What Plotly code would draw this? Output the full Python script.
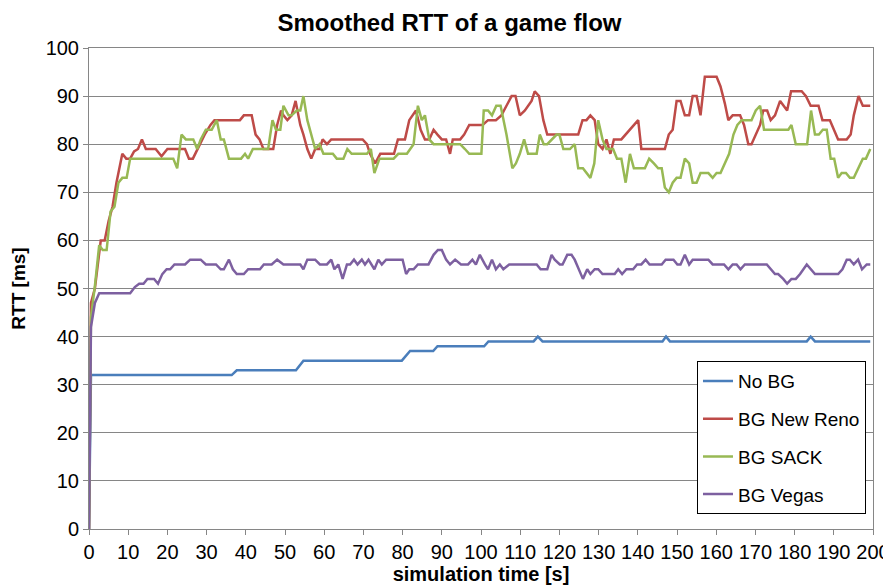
import plotly.graph_objects as go

# ---- data (time [s], RTT [ms]) ----
nobg_t = [0, 0.5, 36.4, 37.7, 52.8, 54.7, 79.8, 81.9, 87.8, 88.9, 100.8, 101.9,
          113.4, 114.5, 115.7, 146.3, 147.2, 148.2, 183.1, 184.1, 185.2, 199.3]
nobg_v = [0, 32, 32, 33, 33, 35, 35, 37, 37, 38, 38, 39,
          39, 40, 39, 39, 40, 39, 39, 40, 39, 39]

reno_t = [0, 0.5, 1.5, 2.5, 3, 4, 5, 6, 7, 8.5, 9.5, 10.5, 11.5, 12.5, 13.5, 14.5,
          17, 18.5, 20, 24.5, 25.5, 26.5, 28, 29.5, 31, 32, 38.5, 39.5, 41.5, 42.5,
          43.5, 44.5, 47, 48, 49, 49.6, 50.6, 51.7, 52.7, 53.9, 54.7, 55.7, 56.7,
          57.7, 58.8, 59.6, 60.7, 61.8, 69.8, 70.9, 71.7, 73, 74.3, 77.8, 78.8,
          80.6, 81.7, 83.4, 84.6, 85.7, 86.8, 87.9, 88.9, 90, 91.1, 92.1, 92.8,
          94.7, 95.7, 97, 100.4, 101.8, 103.8, 105.2, 106.5, 107.8, 108.8, 109.9,
          111.2, 112.9, 113.7, 114.8, 115.9, 116.9, 124.8, 125.9, 126.9, 127.9,
          129, 129.9, 131, 132, 133, 133.9, 135.8, 140.1, 140.9, 146.9, 147.9,
          148.9, 149.9, 150.9, 152, 153.1, 154, 155, 156, 157.1, 160.1, 161.1,
          162.2, 163.1, 164.2, 166.1, 167.1, 168.2, 169, 170.1, 171.2, 172, 173,
          173.9, 175, 176.3, 177.1, 178.1, 179.1, 181.8, 182.9, 184.1, 186.1,
          187.1, 189, 190.1, 191.1, 193.3, 194.3, 195.1, 196.3, 197.4, 199.3]
reno_v = [0, 47, 50, 56, 60, 60, 64, 67, 72, 78, 77, 77, 78.5, 79, 81, 79,
          79, 77.5, 79, 79, 77, 77, 79.5, 82, 84, 85, 85, 86, 86, 82,
          81, 79, 79, 84, 87, 86, 85, 86, 89, 84, 82, 79, 77,
          79, 79, 81, 80, 81, 81, 80, 78, 76, 78, 78, 81,
          81, 85, 87, 83, 81, 81, 83, 82, 81, 81, 78, 81,
          81, 82, 84, 84, 85, 85, 86, 88, 90, 90, 86,
          87, 89, 91, 90, 85, 82, 82, 85, 85, 86,
          85, 80, 79, 81, 78, 81, 81, 85, 79, 79, 82,
          83, 89, 89, 86, 86, 90, 90, 86, 94, 94, 92,
          88.5, 85, 86, 86, 84, 80, 80, 82, 84, 87, 87,
          85, 86, 89, 88, 87, 91, 91, 90, 88, 88,
          85, 85, 83, 81, 81, 82, 86, 90, 88, 88]

sack_t = [0, 0.5, 1.5, 2.6, 3.5, 4.5, 5.5, 6.5, 7.5, 8.5, 9.6, 10.5, 21.5, 22.5,
          23.6, 24.7, 26.6, 27.6, 28.5, 29.8, 31.3, 32.6, 33.6, 34.4, 35.7, 38.8,
          39.8, 40.6, 41.8, 45.7, 46.8, 47.7, 48.8, 49.6, 50.9, 51.7, 53, 53.9,
          54.7, 55.7, 57.7, 58.8, 59.8, 62.2, 63.2, 64.9, 65.9, 67, 70.9, 71.9,
          72.8, 74.1, 77.7, 78.9, 81.1, 82.8, 83.9, 84.9, 85.7, 86.8, 87.9, 94.7,
          95.9, 97, 100.1, 100.7, 101.8, 102.8, 103.9, 105, 106.5, 108, 108.9,
          109.9, 111, 112, 114.2, 115, 116, 116.9, 119.3, 120, 121, 122.7, 123.9,
          124.8, 126, 127.9, 128.9, 129.9, 131, 132, 133.7, 134.7, 135.8, 136.9,
          138, 139, 141.8, 142.9, 144.1, 145.2, 146.1, 146.9, 147.9, 148.9, 149.9,
          150.9, 152, 153.1, 154, 155, 156, 158, 159.1, 160.1, 161.1, 162.2,
          163.3, 164.4, 165.4, 166.5, 169, 170.1, 171.2, 172.2, 178.4, 179.2,
          180.3, 183.2, 184.2, 185.2, 186.2, 187.2, 188.2, 189.2, 190.1, 191.1,
          192, 193.1, 194.1, 195.1, 196.2, 197.4, 198.2, 199.3]
sack_v = [0, 44, 50.5, 59, 58, 58, 66, 67, 72, 73, 73, 77, 77, 75,
          82, 81, 81, 79, 81, 83, 83, 85, 81, 81, 77, 77,
          78, 77, 79, 79, 85, 83, 83, 88, 86, 86, 87, 87,
          90, 85, 79, 80, 78, 78, 77, 77, 79, 78, 78, 79,
          74, 77, 77, 78, 78, 80, 88, 85, 86, 81, 80, 80,
          79, 78, 78, 87, 87, 86, 88, 88, 82, 75, 76,
          78, 81, 78, 78, 82, 80, 80, 82, 82, 79, 79, 80,
          75, 75, 73, 76, 85, 81, 79, 79, 77, 77, 72,
          78, 75, 75, 77, 76, 75, 75, 71, 70, 72, 73,
          73, 77, 76, 72, 72, 74, 74, 73, 74, 74, 76,
          78, 82, 84, 85, 85, 87, 88, 83, 83, 84,
          80, 80, 87, 82, 82, 83, 83, 77, 77, 73,
          74, 74, 73, 73, 75, 77, 77, 79]

vegas_t = [0, 0.5, 1.5, 2.6, 10.5, 11.7, 12.8, 13.9, 14.9, 16.6, 17.6, 18.7, 19.8,
           20.7, 21.8, 24.5, 25.8, 28.5, 29.8, 32.4, 33.6, 34.4, 35.7, 36.7, 37.7,
           39.5, 40.6, 43.6, 44.6, 46.6, 48, 49.6, 53.9, 54.7, 55.7, 57.7, 58.9,
           60.7, 61.8, 62.6, 63.6, 64.7, 65.8, 66.6, 67.6, 68.5, 69.6, 70.4, 71.3,
           72.1, 72.8, 73.8, 74.7, 75.8, 80, 80.9, 81.7, 82.8, 83.9, 86.6, 87.9,
           89, 90, 91.1, 92.1, 93.4, 94.9, 96.7, 97.8, 98.7, 99.7, 101, 101.8,
           102.8, 103.8, 104.8, 105.7, 107.2, 114.2, 115.2, 116.9, 118, 118.8,
           120.1, 120.8, 122, 123.1, 123.9, 125, 126, 127.1, 127.9, 129, 129.9,
           131, 134.1, 135, 136, 137.1, 138.8, 139.8, 140.9, 142, 143, 146.1,
           147.1, 149.1, 150.1, 150.9, 152, 153.1, 154, 158, 159.1, 162, 163.1,
           164.2, 165.2, 166.2, 167.3, 172.9, 173.9, 175, 175.8, 177.1, 178.1,
           179.2, 180.3, 181.4, 183.1, 184.2, 185.2, 191.1, 192.2, 193.3, 194.1,
           195.1, 196.2, 197.2, 198.4, 199.3]
vegas_v = [0, 42, 47, 49, 49, 50.3, 51, 51, 52, 52, 51, 53, 54,
           54, 55, 55, 56, 56, 55, 55, 54, 54, 56, 54, 53,
           53, 54, 54, 55, 55, 56, 55, 55, 54, 56, 56, 55,
           55, 56, 54, 55, 52, 55, 55, 56, 55, 56, 55, 56,
           55, 54, 56, 55, 56, 56, 53, 54, 54, 55, 55, 57,
           58, 58, 56, 55, 56, 55, 55, 56, 55, 57, 55, 54,
           56, 54, 55, 54, 55, 55, 54, 54, 57, 56,
           55, 55, 57, 57, 56, 54, 52, 54, 53, 54, 54,
           53, 53, 54, 53, 54, 54, 55, 55, 56, 55, 55,
           56, 56, 55, 55, 57, 55, 56, 56, 55, 55, 54,
           55, 55, 54, 55, 55, 54, 53, 53, 52, 51,
           52, 52, 53, 55, 54, 53, 53, 54, 56, 56,
           55, 56, 54, 55, 55]

series = [
    ('No BG', nobg_t, nobg_v, '#4A7EBB'),
    ('BG New Reno', reno_t, reno_v, '#BE4B48'),
    ('BG SACK', sack_t, sack_v, '#98B954'),
    ('BG Vegas', vegas_t, vegas_v, '#7D60A0'),
]

GRID = '#868686'
FONT = 'Arial, Liberation Sans, sans-serif'

fig = go.Figure()
for i, (name, t, v, col) in enumerate(series):
    fig.add_trace(go.Scatter(
        x=t, y=v, mode='lines', name=name, legendgroup=f'g{i}',
        line=dict(color=col, width=2.5),
    ))

# page body adds an 8px offset, so the figure is 8px smaller on each side
fig.update_layout(
    width=883, height=580,
    paper_bgcolor='white', plot_bgcolor='white',
    font=dict(family=FONT, size=20, color='black'),
    title=dict(text='<b>Smoothed RTT of a game flow</b>',
               font=dict(size=24, color='black'),
               x=0.5, xanchor='center', y=0.974, yanchor='middle',
               automargin=False),
    margin=dict(l=81, r=18, t=40, b=59, autoexpand=False),
    xaxis=dict(range=[0, 200], tickmode='linear', tick0=0, dtick=10,
               showgrid=False, zeroline=False, automargin=False,
               showline=True, linecolor=GRID, linewidth=1, mirror=True,
               ticks='outside', ticklen=5, tickcolor=GRID,
               tickfont=dict(size=20),
               title=dict(text='<b>simulation time [s]</b>',
                          font=dict(size=20), standoff=0)),
    yaxis=dict(range=[0, 100], tickmode='linear', tick0=0, dtick=10,
               showgrid=True, gridcolor=GRID, gridwidth=1, zeroline=False,
               showline=True, linecolor=GRID, linewidth=1, mirror=True,
               automargin=False,
               ticks='outside', ticklen=5, tickcolor=GRID,
               tickfont=dict(size=20),
               title=dict(text='<b>RTT [ms]</b>',
                          font=dict(size=19), standoff=14)),
    legend=dict(x=0.7755, y=0.349, xanchor='left', yanchor='top',
                bgcolor='white', bordercolor='black', borderwidth=1,
                font=dict(size=19), tracegroupgap=10, itemwidth=30),
    showlegend=True,
)

fig.write_html('out.html')
